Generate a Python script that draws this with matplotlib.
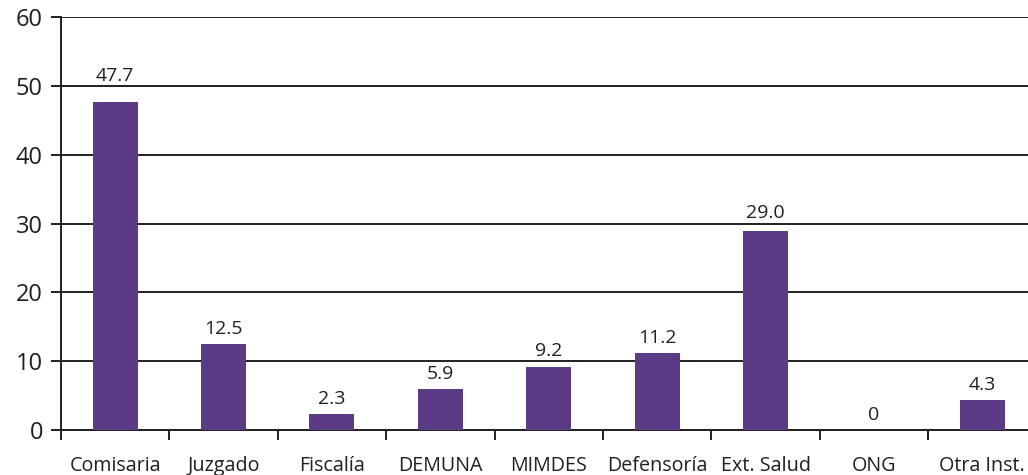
import matplotlib.pyplot as plt

# Data
categories = ["Comisaria", "Juzgado", "Fiscalía", "DEMUNA", "MIMDES",
              "Defensoría", "Ext. Salud", "ONG", "Otra Inst."]
values = [47.7, 12.5, 2.3, 5.9, 9.2, 11.2, 29.0, 0, 4.3]
value_labels = ["47.7", "12.5", "2.3", "5.9", "9.2", "11.2", "29.0", "0", "4.3"]
yticks = [0, 10, 20, 30, 40, 50, 60]

plt.rcParams['font.family'] = ['Open Sans', 'DejaVu Sans']
text_color = '#231F20'

fig = plt.figure(figsize=(10.28, 4.75), dpi=100)
ax = fig.add_axes([0.0593, 0.0947, 0.949, 0.869])

x = range(len(categories))
ax.bar(x, values, width=0.415, color='#5B3A86', zorder=3)

# labels sit ~10px above the bar, or just above a gridline that would cut them
for xi, v, lab in zip(x, values, value_labels):
    y = v + 1.45
    for g in yticks:
        if v < g < y + 2.0:
            y = g + 0.75
            break
    ax.text(xi, y, lab, ha='center', va='baseline', fontsize=14,
            color=text_color)

ax.set_xlim(-0.5, len(categories) - 0.5)
ax.set_ylim(0, 60)
ax.set_yticks(yticks)
ax.set_yticklabels([str(t) for t in yticks], fontsize=17, color=text_color)
ax.yaxis.grid(True, color='#231F20', linewidth=1.4, zorder=0)

# category labels between boundary ticks
ax.set_xticks([i - 0.5 for i in range(len(categories) + 1)])
ax.set_xticklabels([])
ax.set_xticks(list(x), minor=True)
ax.set_xticklabels(categories, minor=True, fontsize=14.2, color=text_color)
ax.tick_params(axis='x', which='minor', length=0, pad=19)
ax.tick_params(axis='x', which='major', length=7, width=1.4, color=text_color)
ax.tick_params(axis='y', length=7, width=1.4, color=text_color, pad=6)

for s in ['top', 'right']:
    ax.spines[s].set_visible(False)
for s in ['left', 'bottom']:
    ax.spines[s].set_color(text_color)
    ax.spines[s].set_linewidth(1.4)

fig.savefig('out.png', dpi=100)
